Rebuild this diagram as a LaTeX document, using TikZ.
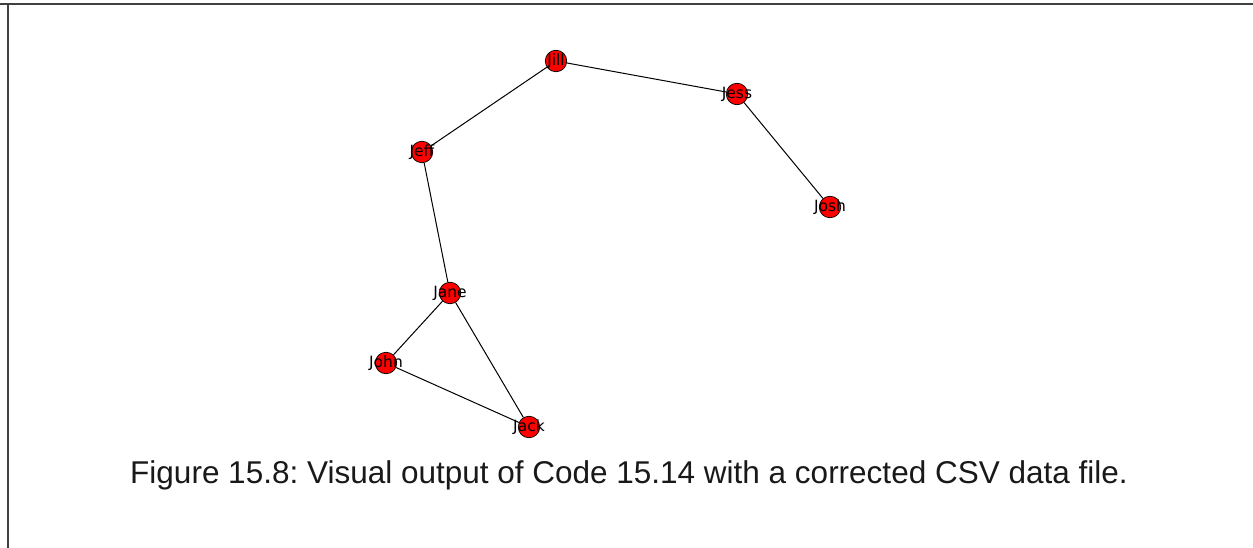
\documentclass[tikz,border=0pt]{standalone}
\usepackage{fontspec}
\setmainfont{Liberation Sans}
\newfontfamily\labelfont{DejaVu Sans}
\frenchspacing
\begin{document}
\begin{tikzpicture}[x=1pt,y=-1pt,
  vertex/.style={circle,draw=black,line width=0.7pt,fill=red,minimum size=21.5pt,inner sep=0pt},
  vlabel/.style={font=\labelfont\fontsize{15.5}{15.5}\selectfont,text=black,inner sep=0pt},
  edge/.style={draw=black,line width=1pt},
  frame/.style={draw=black!75,line width=2pt}]
\useasboundingbox (0,0) rectangle (1253,548);
\fill[white] (0,0) rectangle (1253,548);
\coordinate (tl) at (0,4.5);
\coordinate (tr) at (1253,4.5);
\coordinate (lt) at (7.5,3.5);
\coordinate (lb) at (7.5,548);
\draw[frame] (tl) -- (tr);
\draw[frame] (lt) -- (lb);
% node positions
\coordinate (pJill) at (556,61);
\coordinate (pJess) at (737,94);
\coordinate (pJeff) at (422,152);
\coordinate (pJosh) at (830,207);
\coordinate (pJane) at (450,293);
\coordinate (pJohn) at (386,363);
\coordinate (pJack) at (529,427);
\foreach \n in {Jill,Jess,Jeff,Josh,Jane,John,Jack}{
  \node[vertex] (\n) at (p\n) {};
}
\draw[edge] (Jill) -- (Jess);
\draw[edge] (Jill) -- (Jeff);
\draw[edge] (Jess) -- (Josh);
\draw[edge] (Jeff) -- (Jane);
\draw[edge] (Jane) -- (John);
\draw[edge] (Jane) -- (Jack);
\draw[edge] (John) -- (Jack);
\foreach \n in {Jill,Jess,Jeff,Josh,Jane,John,Jack}{
  \node[vlabel] (l\n) at (p\n) {\n};
}
\node[font=\fontsize{31.5}{36}\selectfont,text=black!90,anchor=base] (caption) at (629,483) {Figure 15.8: Visual output of Code 15.14 with a corrected CSV data file.};
\end{tikzpicture}
\end{document}
